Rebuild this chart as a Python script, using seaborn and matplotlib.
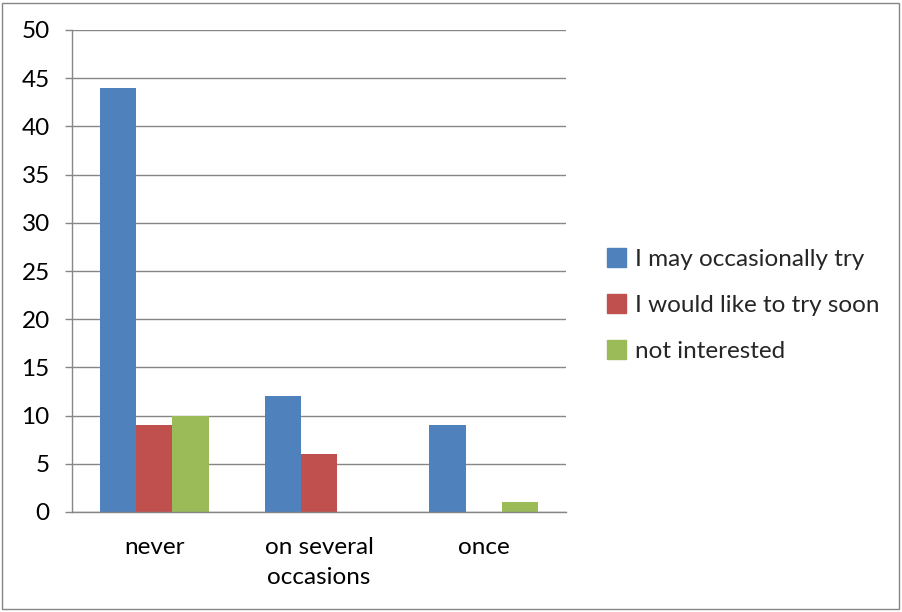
import matplotlib
matplotlib.use("Agg")
import matplotlib.pyplot as plt
import seaborn as sns
import pandas as pd
from matplotlib.patches import Rectangle

categories = ["never", "on several\noccasions", "once"]
series_names = ["I may occasionally try", "I would like to try soon", "not interested"]
may_try = [44, 12, 9]
like_soon = [9, 6, 0]
not_interested = [10, 0, 1]
colors = ["#4F81BD", "#C0504D", "#9BBB59"]
y_ticks = [0, 5, 10, 15, 20, 25, 30, 35, 40, 45, 50]

rows = []
for name, vals in zip(series_names, [may_try, like_soon, not_interested]):
    for c, v in zip(categories, vals):
        rows.append({"category": c, "series": name, "value": v})
df = pd.DataFrame(rows)

sns.set_theme(style="white")
plt.rcParams["font.family"] = ["Lato", "DejaVu Sans"]

FS = 17.5

fig = plt.figure(figsize=(9.03, 6.12), dpi=100)
ax = fig.add_axes([72/903, 1-512/612, (566-72)/903, (512-30)/612])

sns.barplot(data=df, x="category", y="value", hue="series", order=categories,
            hue_order=series_names, palette=colors, width=0.66, gap=0,
            saturation=1, ax=ax, legend=False, linewidth=0)

ax.set_ylim(0, 50)
ax.set_xlim(-0.5, 2.5)
ax.set_yticks(y_ticks)
ax.set_yticklabels([str(t) for t in y_ticks], fontsize=FS, color="black")
ax.tick_params(axis="y", left=True, length=5, width=1, color="#868686", pad=11)
ax.tick_params(axis="x", bottom=False, labelsize=FS, pad=12, labelcolor="black")
for lab in ax.get_xticklabels():
    lab.set_linespacing(1.55)
ax.set_xlabel("")
ax.set_ylabel("")
ax.yaxis.grid(True, color="#868686", linewidth=1)
ax.set_axisbelow(True)
for s in ["top", "right"]:
    ax.spines[s].set_visible(False)
for s in ["left", "bottom"]:
    ax.spines[s].set_color("#868686")
    ax.spines[s].set_linewidth(1)

handles = [Rectangle((0, 0), 1, 1, color=c) for c in colors]
fig.legend(handles, series_names, loc="center left", bbox_to_anchor=(607/903, 1-305/612),
           frameon=False, fontsize=FS, handlelength=0.8, handleheight=0.8,
           handletextpad=0.35, labelspacing=1.0, borderpad=0, borderaxespad=0)

fig.patches.append(Rectangle((2/903, 3/612), 897/903, 606/612, transform=fig.transFigure,
                             fill=False, edgecolor="#868686", linewidth=1))

fig.savefig("out.png", dpi=100)
